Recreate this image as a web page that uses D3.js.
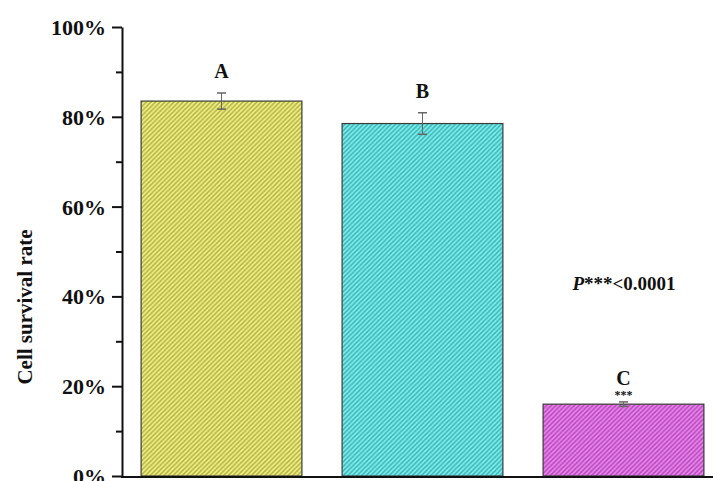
<!DOCTYPE html>
<html>
<head>
<meta charset="utf-8">
<script src="https://cdn.jsdelivr.net/npm/d3@7/dist/d3.min.js"></script>
<style>
  html, body { margin: 0; padding: 0; background: #ffffff; }
  svg { display: block; }
  text { font-family: "Liberation Serif", "Times New Roman", serif; font-weight: bold; fill: #111; }
</style>
</head>
<body>
<script>
// Groups (significance letters shown above each bar)
const groups = ["A", "B", "C"];
// Mean cell survival rate (%) and standard error
const survival = [83.5, 78.5, 16.0];
const errors = [1.8, 2.4, 0.5];
// Bar fill colours: light stripe / dark hatch
const fills = ["#f2f284", "#7ef0f0", "#f084f0"];
const hatches = ["#b2b248", "#3eb4b4", "#b04cb8"];
// Y axis ticks
const yTicks = [0, 20, 40, 60, 80, 100];
const yMinorTicks = [10, 30, 50, 70, 90];
const yTitle = "Cell survival rate";
const pNote = { prefix: "P", rest: "***<0.0001" };
const starMark = "***";

const W = 713, H = 481;
const svg = d3.select("body").append("svg").attr("width", W).attr("height", H);

const x = d3.scaleBand().domain(groups).range([121, 724]).paddingInner(0.2).paddingOuter(0.1);
const y = d3.scaleLinear().domain([0, 100]).range([476, 27]);

// Diagonal hatch patterns
const defs = svg.append("defs");
groups.forEach((g, i) => {
  const p = defs.append("pattern")
    .attr("id", "hatch" + i)
    .attr("patternUnits", "userSpaceOnUse")
    .attr("width", 4.6).attr("height", 4.6);
  p.append("rect").attr("width", 4.6).attr("height", 4.6).attr("fill", fills[i]);
  p.append("path")
    .attr("d", "M-1,1 l2,-2 M0,4.6 l4.6,-4.6 M3.6,5.6 l2,-2")
    .attr("stroke", hatches[i]).attr("stroke-width", 1.5);
});

// Bars
svg.selectAll("rect.bar").data(groups).join("rect")
  .attr("class", "bar")
  .attr("x", d => x(d))
  .attr("y", (d, i) => y(survival[i]))
  .attr("width", x.bandwidth())
  .attr("height", (d, i) => y(0) - y(survival[i]))
  .attr("fill", (d, i) => `url(#hatch${i})`)
  .attr("stroke", "#3a3a3a").attr("stroke-width", 1.2);

// Error bars
const eb = svg.append("g").attr("stroke", "#666").attr("stroke-width", 1);
groups.forEach((g, i) => {
  const cx = x(g) + x.bandwidth() / 2;
  const top = y(survival[i] + errors[i]);
  const bot = y(survival[i] - errors[i]);
  eb.append("line").attr("x1", cx).attr("x2", cx).attr("y1", top).attr("y2", bot);
  eb.append("line").attr("x1", cx - 4.5).attr("x2", cx + 4.5).attr("y1", top).attr("y2", top).attr("stroke-width", 1.5);
  eb.append("line").attr("x1", cx - 4.5).attr("x2", cx + 4.5).attr("y1", bot).attr("y2", bot).attr("stroke-width", 1.5);
});

// Letters above bars
groups.forEach((g, i) => {
  const cx = x(g) + x.bandwidth() / 2;
  const top = y(survival[i] + errors[i]);
  const isLast = i === groups.length - 1;
  svg.append("text")
    .attr("x", cx)
    .attr("y", top - (isLast ? 17 : 15))
    .attr("text-anchor", "middle")
    .style("font-size", "20px")
    .text(g);
  if (isLast) {
    svg.append("text")
      .attr("x", cx)
      .attr("y", top - 3)
      .attr("text-anchor", "middle")
      .style("font-size", "12px")
      .text(starMark);
  }
});

// Y axis
const yAxis = d3.axisLeft(y).tickValues(yTicks).tickSize(10).tickSizeOuter(0).tickFormat(d => d + "%");
const ga = svg.append("g").attr("transform", "translate(122,0)").call(yAxis);
ga.select(".domain").attr("stroke", "#111").attr("stroke-width", 2);
ga.selectAll(".tick line").attr("stroke", "#111").attr("stroke-width", 2);
ga.selectAll(".tick text")
  .attr("x", -16).attr("dy", "0.34em")
  .style("font-family", "'Liberation Serif', 'Times New Roman', serif")
  .style("font-weight", "bold").style("font-size", "22px").attr("fill", "#111");

const gm = svg.append("g").attr("transform", "translate(122,0)")
  .call(d3.axisLeft(y).tickValues(yMinorTicks).tickSize(6).tickFormat(""));
gm.select(".domain").remove();
gm.selectAll(".tick line").attr("stroke", "#111").attr("stroke-width", 2);

// Baseline
svg.append("line")
  .attr("x1", 121).attr("x2", W).attr("y1", y(0) + 1).attr("y2", y(0) + 1)
  .attr("stroke", "#111").attr("stroke-width", 2);

// Y title
svg.append("text")
  .attr("transform", "translate(32,307) rotate(-90)")
  .attr("text-anchor", "middle")
  .style("font-size", "21px")
  .text(yTitle);

// P value note
const pt = svg.append("text")
  .attr("x", 624).attr("y", 290)
  .attr("text-anchor", "middle")
  .style("font-size", "19px");
pt.append("tspan").style("font-style", "italic").text(pNote.prefix);
pt.append("tspan").text(pNote.rest);
</script>
</body>
</html>
